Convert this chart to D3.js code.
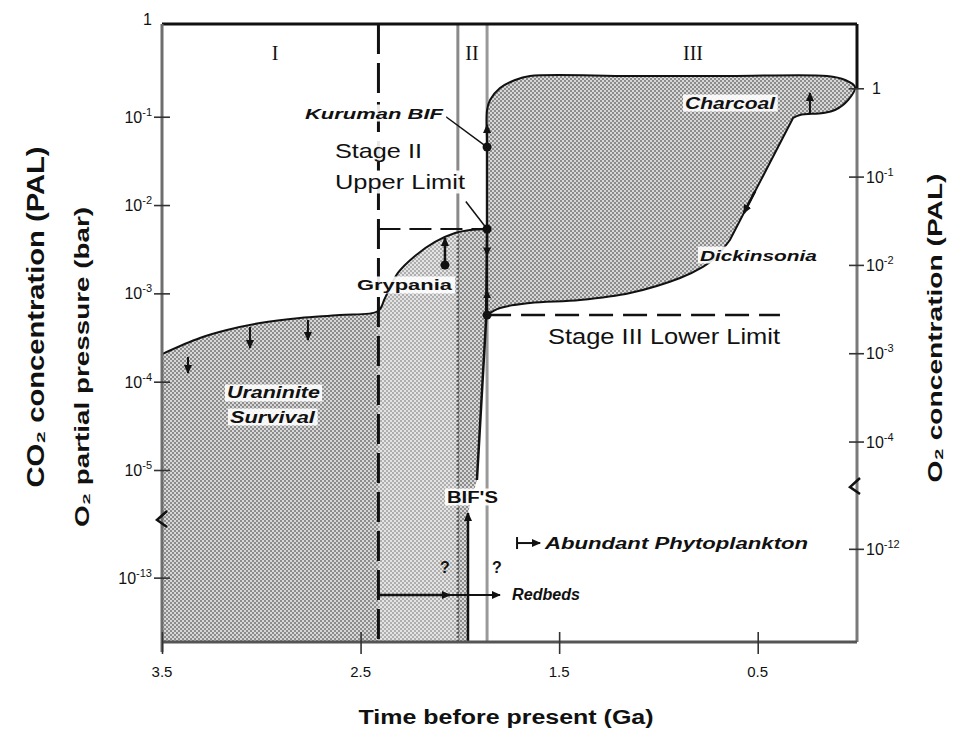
<!DOCTYPE html>
<html>
<head>
<meta charset="utf-8">
<script src="https://cdn.jsdelivr.net/npm/d3@7"></script>
<style>
  body { margin: 0; background: #fff; }
  text { font-family: "Liberation Sans", Arial, sans-serif; fill: #111; }
</style>
</head>
<body>
<svg id="chart" width="962" height="744"></svg>
<script>
// time before present (Ga) and log10 O2 partial pressure (bar)
const stageITime = [3.5, 3.309, 3.173, 3.006, 2.805, 2.604, 2.412, 2.377, 2.312, 2.226, 2.125, 2.024, 1.949, 1.863];
const stageILog = [-3.687, -3.505, -3.415, -3.336, -3.279, -3.245, -3.2, -3.052, -2.769, -2.577, -2.418, -2.317, -2.283, -2.271];
const riseTime = [1.863, 1.868, 1.914, 1.959, 1.959];
const riseLog = [-2.271, -3.302, -6.37, -10.89, -13.72];
// stage III envelope: upper lobe, Dickinsonia line, lower curve
const lobeTime = [1.863, 1.863, 1.863, 1.863, 1.848, 1.798, 1.722, 1.647, 1.143, 0.64, 0.151, 0.06, 0.01, 0.045, 0.111, 0.171, 0.287, 0.322];
const lobeLog = [-3.245, -2.271, -1.343, -0.924, -0.811, -0.675, -0.584, -0.539, -0.539, -0.539, -0.539, -0.584, -0.663, -0.811, -0.924, -0.958, -0.98, -1.014];
const baseTime = [0.64, 0.715, 0.776, 0.891, 1.143, 1.395, 1.647, 1.798, 1.863];
const baseLog = [-2.396, -2.6, -2.701, -2.826, -2.996, -3.075, -3.109, -3.166, -3.245];

const timeTicks = [3.5, 2.5, 1.5, 0.5];
const leftTickExp = [0, -1, -2, -3, -4, -5, -13];
const rightTickExp = [0, -1, -2, -3, -4, -12];

const stageBoundaryI = 2.41;   // dashed line
const stageIIStart = 2.01;
const stageIIEnd = 1.863;
const upperLimitLog = -2.271;
const lowerLimitLog = -3.245;
const lowerLimitEnd = 0.388;

const kurumanLog = -1.343;
const grypaniaTime = 2.075, grypaniaLog = [-2.679, -2.373];
const charcoalTime = 0.237, charcoalLog = [-0.958, -0.731];
const dickinsoniaTime = [0.513, 0.57], dickinsoniaLog = [-1.843, -2.092];
const uraniniteArrows = [[3.369, -3.72, -3.902], [3.057, -3.381, -3.619], [2.765, -3.302, -3.528]];
const redbedsLog = -13.194, redbedsTime = [2.41, 2.05, 1.798];
const planktonLog = -12.613, planktonTime = [1.712, 1.596];

const palShift = Math.log10(0.21);

const svg = d3.select("#chart");
svg.append("rect").attr("width", 962).attr("height", 744).attr("fill", "#fff");

const x = d3.scaleLinear().domain([3.5, 0]).range([162, 857]);
// broken log axis: -5 .. -12.4 squeezed
const y = d3.scaleLinear().domain([0.05, -5, -12.4, -13.72]).range([24, 470, 524, 642]);
const yBottom = -13.72, yTop = 0.05;

const defs = svg.append("defs");
const pat = defs.append("pattern").attr("id", "dither")
  .attr("width", 4).attr("height", 4).attr("patternUnits", "userSpaceOnUse");
pat.append("rect").attr("width", 4).attr("height", 4).attr("fill", "#d8d8d8");
pat.append("rect").attr("width", 2).attr("height", 2).attr("fill", "#8c8c8c");
pat.append("rect").attr("x", 2).attr("y", 2).attr("width", 2).attr("height", 2).attr("fill", "#8c8c8c");

defs.append("marker").attr("id", "arr")
  .attr("viewBox", "0 0 10 10").attr("refX", 9).attr("refY", 5)
  .attr("markerWidth", 9).attr("markerHeight", 9)
  .attr("markerUnits", "userSpaceOnUse").attr("orient", "auto")
  .append("path").attr("d", "M0,0.5L10,5L0,9.5Z").attr("fill", "#111");

const curve = d3.line().x((d) => x(d[0])).y((d) => y(d[1])).curve(d3.curveCatmullRom.alpha(0.5));
const straight = d3.line().x((d) => x(d[0])).y((d) => y(d[1]));

const stageIPts = stageITime.map((t, i) => [t, stageILog[i]]);
const risePts = riseTime.map((t, i) => [t, riseLog[i]]);
const lobePts = lobeTime.map((t, i) => [t, lobeLog[i]]);
const basePts = baseTime.map((t, i) => [t, baseLog[i]]);

// shaded areas
const lowerShape = curve(stageIPts) +
  risePts.map((p) => `L${x(p[0])},${y(p[1])}`).join("") +
  `L${x(3.5)},${y(yBottom)}Z`;
svg.append("path").attr("d", lowerShape).attr("fill", "url(#dither)");
defs.append("clipPath").attr("id", "lowclip").append("path").attr("d", lowerShape);
svg.append("rect")
  .attr("x", x(stageBoundaryI)).attr("width", x(stageIIStart) - x(stageBoundaryI))
  .attr("y", y(yTop)).attr("height", y(yBottom) - y(yTop))
  .attr("fill", "#fff").attr("opacity", 0.3).attr("clip-path", "url(#lowclip)");

const upperShape = curve(lobePts) + "L" + curve(basePts).slice(1);
svg.append("path").attr("d", upperShape + "Z").attr("fill", "url(#dither)");

// stage II gray band lines
svg.append("line")
  .attr("x1", x(stageIIStart)).attr("x2", x(stageIIStart))
  .attr("y1", y(yTop)).attr("y2", y(upperLimitLog - 0.03))
  .attr("stroke", "#8a8a8a").attr("stroke-width", 3);
svg.append("line")
  .attr("x1", x(stageIIStart)).attr("x2", x(stageIIStart))
  .attr("y1", y(upperLimitLog - 0.03)).attr("y2", y(yBottom))
  .attr("stroke", "#555").attr("stroke-width", 2.5).attr("stroke-dasharray", "2,2");
svg.append("line")
  .attr("x1", x(stageIIEnd)).attr("x2", x(stageIIEnd))
  .attr("y1", y(yTop)).attr("y2", y(yBottom))
  .attr("stroke", "#999").attr("stroke-width", 3);

// dashed limits
svg.append("line")
  .attr("x1", x(stageBoundaryI)).attr("x2", x(stageBoundaryI))
  .attr("y1", y(yTop)).attr("y2", y(yBottom))
  .attr("stroke", "#111").attr("stroke-width", 3).attr("stroke-dasharray", "30,9");
svg.append("line")
  .attr("x1", x(stageBoundaryI)).attr("x2", x(stageIIEnd))
  .attr("y1", y(upperLimitLog)).attr("y2", y(upperLimitLog))
  .attr("stroke", "#111").attr("stroke-width", 2).attr("stroke-dasharray", "22,9");
svg.append("line")
  .attr("x1", x(stageIIEnd)).attr("x2", x(lowerLimitEnd))
  .attr("y1", y(lowerLimitLog)).attr("y2", y(lowerLimitLog))
  .attr("stroke", "#111").attr("stroke-width", 2.5).attr("stroke-dasharray", "24,10");

// outlines
svg.append("path").attr("d", curve(stageIPts)).attr("fill", "none")
  .attr("stroke", "#111").attr("stroke-width", 2);
svg.append("path").attr("d", straight(risePts.slice(0, 3))).attr("fill", "none")
  .attr("stroke", "#111").attr("stroke-width", 2.5);
svg.append("path").attr("d", upperShape).attr("fill", "none")
  .attr("stroke", "#111").attr("stroke-width", 2);

// arrows
function arrow(a, b, w) {
  svg.append("line")
    .attr("x1", x(a[0])).attr("y1", y(a[1]))
    .attr("x2", x(b[0])).attr("y2", y(b[1]))
    .attr("stroke", "#111").attr("stroke-width", w || 2)
    .attr("marker-end", "url(#arr)");
}
uraniniteArrows.forEach((d) => arrow([d[0], d[1]], [d[0], d[2]]));
arrow([stageIIEnd, kurumanLog], [stageIIEnd, kurumanLog + 0.25]);
arrow([stageIIEnd, upperLimitLog], [stageIIEnd, upperLimitLog - 0.3]);
arrow([stageIIEnd, lowerLimitLog], [stageIIEnd, lowerLimitLog + 0.28]);
arrow([grypaniaTime, grypaniaLog[0]], [grypaniaTime, grypaniaLog[1]], 2.5);
arrow([charcoalTime, charcoalLog[0]], [charcoalTime, charcoalLog[1]], 2);
arrow([dickinsoniaTime[0], dickinsoniaLog[0]], [dickinsoniaTime[1], dickinsoniaLog[1]], 2.5);
arrow([riseTime[4], riseLog[4]], [riseTime[3], riseLog[3]], 2.5);
arrow([redbedsTime[0], redbedsLog], [redbedsTime[1], redbedsLog], 2.5);
arrow([redbedsTime[1], redbedsLog], [redbedsTime[2], redbedsLog], 2);
arrow([planktonTime[0], planktonLog], [planktonTime[1], planktonLog], 2);
svg.append("line")
  .attr("x1", x(planktonTime[0])).attr("x2", x(planktonTime[0]))
  .attr("y1", y(planktonLog) - 6).attr("y2", y(planktonLog) + 6)
  .attr("stroke", "#111").attr("stroke-width", 2);

// dots
const dots = [[stageIIEnd, kurumanLog], [stageIIEnd, upperLimitLog], [stageIIEnd, lowerLimitLog], [grypaniaTime, grypaniaLog[0]]];
svg.selectAll(".dot").data(dots).enter().append("circle")
  .attr("class", "dot")
  .attr("cx", (d) => x(d[0])).attr("cy", (d) => y(d[1]))
  .attr("r", 4.5).attr("fill", "#111");

// leader lines
svg.append("line")
  .attr("x1", x(2.07)).attr("y1", y(-1.0))
  .attr("x2", x(stageIIEnd)).attr("y2", y(kurumanLog))
  .attr("stroke", "#111").attr("stroke-width", 1.5);
svg.append("line")
  .attr("x1", x(1.97)).attr("y1", y(-1.96))
  .attr("x2", x(stageIIEnd)).attr("y2", y(upperLimitLog))
  .attr("stroke", "#111").attr("stroke-width", 1.5);

// frame
svg.append("line").attr("x1", 162).attr("x2", 857).attr("y1", y(yTop)).attr("y2", y(yTop))
  .attr("stroke", "#111").attr("stroke-width", 3);
svg.append("line").attr("x1", 162).attr("x2", 162).attr("y1", y(yTop)).attr("y2", y(yBottom) + 10)
  .attr("stroke", "#6e6e6e").attr("stroke-width", 3);
svg.append("line").attr("x1", 857).attr("x2", 857).attr("y1", y(yTop)).attr("y2", y(palShift))
  .attr("stroke", "#111").attr("stroke-width", 3);
svg.append("line").attr("x1", 857).attr("x2", 857).attr("y1", y(palShift)).attr("y2", y(yBottom))
  .attr("stroke", "#7a7a7a").attr("stroke-width", 3);
svg.append("line").attr("x1", 162).attr("x2", 857).attr("y1", y(yBottom)).attr("y2", y(yBottom))
  .attr("stroke", "#555").attr("stroke-width", 3);

// axes
const leftAxis = svg.append("g").attr("transform", "translate(170,0)")
  .call(d3.axisLeft(y).tickValues(leftTickExp).tickSize(16).tickFormat(""));
const rightAxis = svg.append("g").attr("transform", "translate(849,0)")
  .call(d3.axisRight(y).tickValues(rightTickExp.map((e) => e + palShift)).tickSize(15).tickFormat(""));
const bottomAxis = svg.append("g").attr("transform", `translate(0,${y(yBottom) - 10})`)
  .call(d3.axisBottom(x).tickValues(timeTicks).tickSize(22).tickFormat(""));
[leftAxis, rightAxis, bottomAxis].forEach((g) => {
  g.select(".domain").remove();
  g.selectAll("line").attr("stroke", "#333").attr("stroke-width", 1.6);
});
leftAxis.select(".tick line").remove();

function powLabel(sel, e) {
  if (e === 0) { sel.text("1"); return; }
  sel.append("tspan").text("10");
  sel.append("tspan").attr("dy", -7).attr("font-size", 11).text(String(e));
}
leftTickExp.forEach((e) => {
  const t = svg.append("text").attr("x", 152).attr("y", y(e) + (e === 0 ? -3 : 6))
    .attr("text-anchor", "end").attr("font-size", 16);
  powLabel(t, e);
});
rightTickExp.forEach((e) => {
  const t = svg.append("text").attr("x", e === 0 ? 872 : 866).attr("y", y(e + palShift) + 6)
    .attr("font-size", 16);
  powLabel(t, e);
});
timeTicks.forEach((v) => {
  svg.append("text").attr("x", x(v)).attr("y", 677).attr("text-anchor", "middle")
    .attr("font-size", 15).text(v);
});

// axis breaks
function axisBreak(px, val) {
  const cy = y(val);
  svg.append("path")
    .attr("d", `M${px + 5},${cy - 9}L${px - 5},${cy}L${px + 5},${cy + 7}`)
    .attr("fill", "none").attr("stroke", "#111").attr("stroke-width", 2.5);
}
axisBreak(162, -11.85);
axisBreak(855, -7.33);

// axis titles
svg.append("text").attr("transform", "translate(44,317) rotate(-90)")
  .attr("text-anchor", "middle").attr("font-size", 23).attr("font-weight", "bold")
  .attr("textLength", 341).attr("lengthAdjust", "spacingAndGlyphs")
  .text("CO₂ concentration (PAL)");
svg.append("text").attr("transform", "translate(89,367) rotate(-90)")
  .attr("text-anchor", "middle").attr("font-size", 20).attr("font-weight", "bold")
  .attr("textLength", 320).attr("lengthAdjust", "spacingAndGlyphs")
  .text("O₂ partial pressure (bar)");
svg.append("text").attr("transform", "translate(942,328) rotate(-90)")
  .attr("text-anchor", "middle").attr("font-size", 21).attr("font-weight", "bold")
  .attr("textLength", 309).attr("lengthAdjust", "spacingAndGlyphs")
  .text("O₂ concentration (PAL)");
svg.append("text").attr("x", 506).attr("y", 724)
  .attr("text-anchor", "middle").attr("font-size", 20).attr("font-weight", "bold")
  .attr("textLength", 295).attr("lengthAdjust", "spacingAndGlyphs")
  .text("Time before present (Ga)");

// annotations
const notes = [
  { text: "Kuruman BIF", t: 2.78, L: -0.958, size: 15, weight: "bold", style: "italic", len: 138, bg: true },
  { text: "Stage II", t: 2.629, L: -1.377, size: 21, len: 87, bg: true },
  { text: "Upper Limit", t: 2.629, L: -1.739, size: 21, len: 130, bg: true },
  { text: "Grypania", t: 2.518, L: -2.905, size: 15, weight: "bold", len: 95, bg: true },
  { text: "Uraninite", t: 3.173, L: -4.128, size: 16, weight: "bold", style: "italic", len: 93, bg: true },
  { text: "Survival", t: 3.158, L: -4.4, size: 16, weight: "bold", style: "italic", len: 85, bg: true },
  { text: "Charcoal", t: 0.866, L: -0.845, size: 16, weight: "bold", style: "italic", len: 90, bg: true },
  { text: "Dickinsonia", t: 0.791, L: -2.566, size: 15, weight: "bold", style: "italic", len: 117, bg: true },
  { text: "Stage III Lower Limit", t: 1.556, L: -3.494, size: 22, len: 232 },
  { text: "BIF'S", t: 2.065, L: -8.7, size: 16, weight: "bold", len: 51, bg: true },
  { text: "Abundant Phytoplankton", t: 1.571, L: -12.613, size: 16, weight: "bold", style: "italic", len: 263 },
  { text: "Redbeds", t: 1.737, L: -13.194, size: 16, weight: "bold", style: "italic", len: 68 },
  { text: "?", t: 2.075, L: -12.892, size: 16, weight: "bold", anchor: "middle" },
  { text: "?", t: 1.813, L: -12.892, size: 16, weight: "bold", anchor: "middle" },
  { text: "I", t: 2.931, L: -0.278, size: 20, serif: true, anchor: "middle" },
  { text: "II", t: 1.939, L: -0.278, size: 20, serif: true, anchor: "middle" },
  { text: "III", t: 0.826, L: -0.278, size: 20, serif: true, anchor: "middle" }
];
notes.forEach((n) => {
  const g = svg.append("g");
  const t = g.append("text")
    .attr("x", x(n.t)).attr("y", y(n.L))
    .attr("dominant-baseline", "central")
    .attr("text-anchor", n.anchor || "start")
    .attr("font-size", n.size)
    .attr("font-weight", n.weight || "normal")
    .attr("font-style", n.style || "normal")
    .text(n.text);
  if (n.serif) t.style("font-family", "'Liberation Serif', 'Times New Roman', serif");
  if (n.len) t.attr("textLength", n.len).attr("lengthAdjust", "spacingAndGlyphs");
  if (n.bg) {
    const b = t.node().getBBox();
    g.insert("rect", "text")
      .attr("x", b.x - 2).attr("y", b.y).attr("width", b.width + 4).attr("height", b.height)
      .attr("fill", "#fff").attr("opacity", 0.9);
  }
});
</script>
</body>
</html>
